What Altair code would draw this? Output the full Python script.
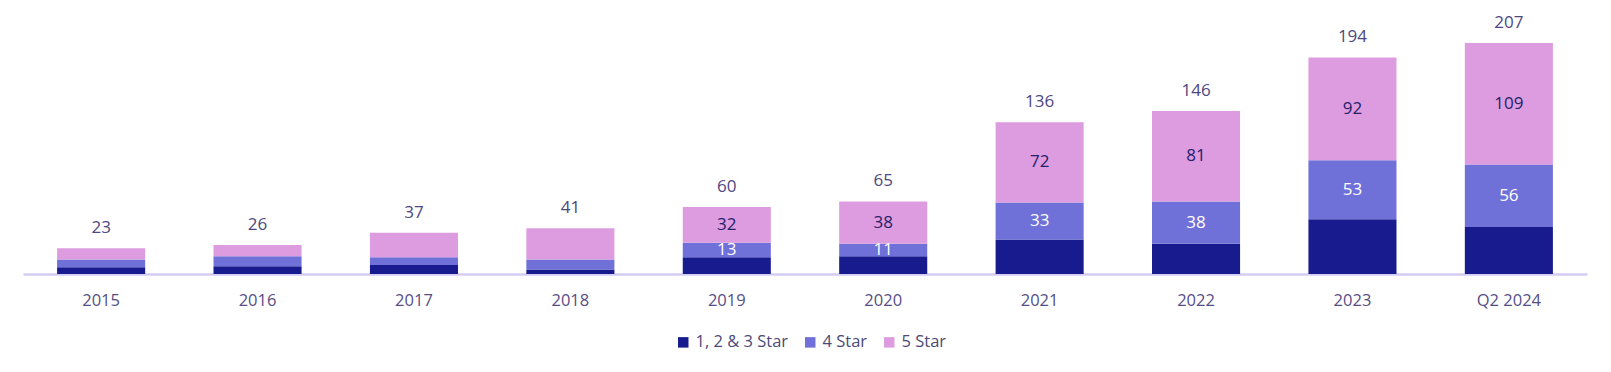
import altair as alt
import pandas as pd

years = ["2015", "2016", "2017", "2018", "2019", "2020", "2021", "2022", "2023", "Q2 2024"]
star123 = [6, 7, 8, 4, 15, 16, 31, 27, 49, 42]
star4 = [7, 9, 7, 9, 13, 11, 33, 38, 53, 56]
star5 = [10, 10, 22, 28, 32, 38, 72, 81, 92, 109]
totals = [23, 26, 37, 41, 60, 65, 136, 146, 194, 207]
series = ["1, 2 & 3 Star", "4 Star", "5 Star"]
colors = ["#171b8e", "#6f70d8", "#dd9cdf"]
label_from = 4  # segment labels shown from 2019 onward

rows = []
for i, y in enumerate(years):
    base = 0
    for k, (s, vals) in enumerate(zip(series, [star123, star4, star5])):
        v = vals[i]
        rows.append({"year": y, "series": s, "value": v, "order": k,
                     "mid": base + v / 2,
                     "lab": str(v) if (i >= label_from and k > 0) else ""})
        base += v
df = pd.DataFrame(rows)
tot = pd.DataFrame({"year": years, "total": totals})

FONT = "Open Sans"
xenc = alt.X("year:N", sort=years, title=None,
             scale=alt.Scale(paddingInner=0.437, paddingOuter=0.218),
             axis=alt.Axis(labelAngle=0, ticks=False, domainColor="#d4cdf4", domainWidth=2.5,
                           labelFont=FONT, labelFontSize=16.5, labelColor="#564d86",
                           labelPadding=18, grid=False))
yscale = alt.Scale(domain=[0, 236.5], nice=False)

bars = alt.Chart(df).mark_bar().encode(
    x=xenc,
    y=alt.Y("value:Q", stack="zero", scale=yscale, axis=None),
    color=alt.Color("series:N", sort=series,
                    scale=alt.Scale(domain=series, range=colors),
                    legend=alt.Legend(title=None, orient="none", legendX=652, legendY=324,
                                      direction="horizontal", symbolType="square",
                                      symbolSize=110, symbolStrokeWidth=0,
                                      labelFont=FONT, labelFontSize=16.5, labelColor="#4b4a78",
                                      columnPadding=13, labelOffset=4)),
    order=alt.Order("order:Q"),
)

seg = alt.Chart(df).mark_text(font=FONT, fontSize=17, baseline="middle").encode(
    x=alt.X("year:N", sort=years),
    y=alt.Y("mid:Q", scale=yscale),
    text="lab:N",
    color=alt.Color("series:N", scale=alt.Scale(domain=series, range=["#ffffff", "#ffffff", "#24206a"]), legend=None),
)

totl = alt.Chart(tot).mark_text(font=FONT, fontSize=17, baseline="middle", dy=-20, color="#4e4780").encode(
    x=alt.X("year:N", sort=years),
    y=alt.Y("total:Q", scale=yscale),
    text="total:Q",
)

chart = alt.layer(bars, seg, totl).resolve_scale(color="independent").properties(
    width=1564, height=264, background="white",
    padding={"left": 15, "top": 2, "right": 8, "bottom": 0},
).configure_view(stroke="transparent", strokeWidth=0)

chart.save("out.html", embed_options={"renderer": "svg", "actions": False})
